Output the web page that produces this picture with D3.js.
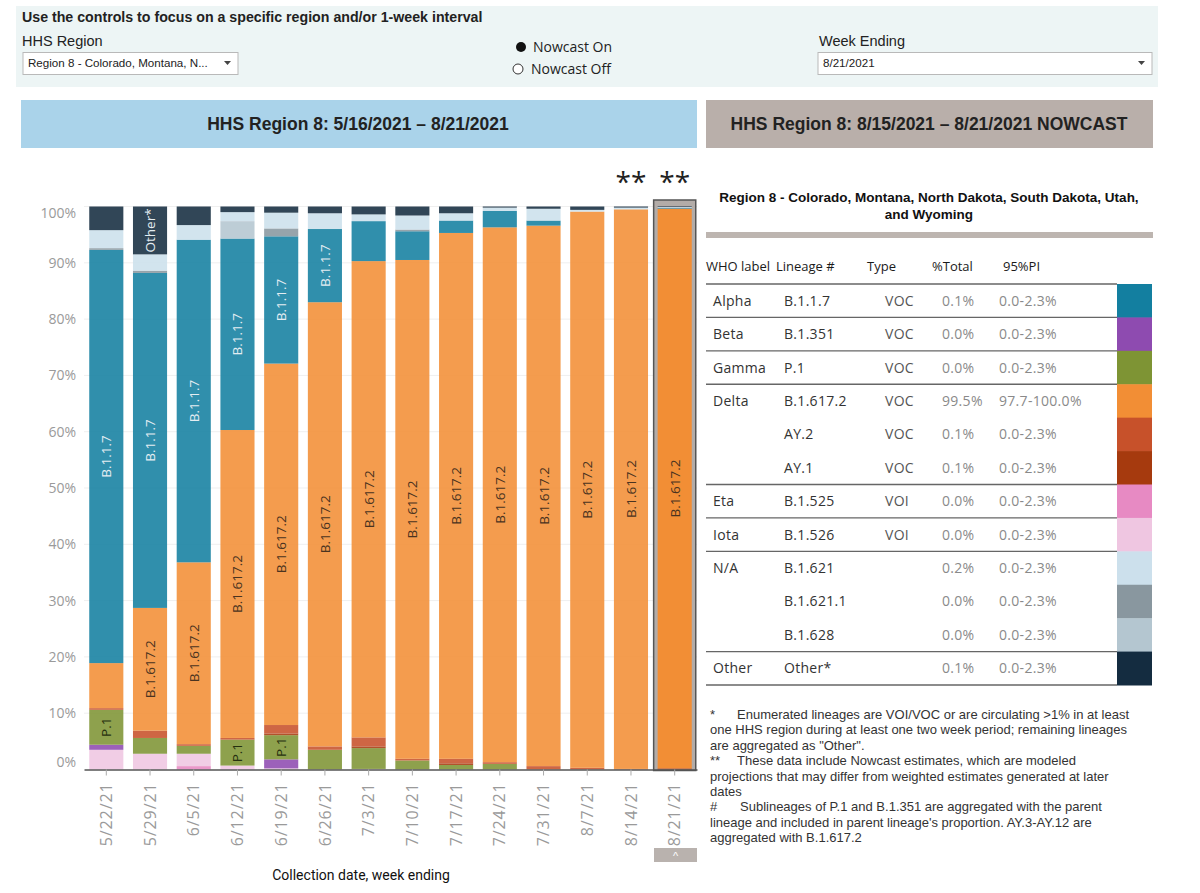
<!DOCTYPE html>
<html>
<head>
<meta charset="utf-8">
<script src="https://cdn.jsdelivr.net/npm/d3@7"></script>
<style>
  body { margin: 0; background: #fff; }
  svg { display: block; }
</style>
</head>
<body>
<svg id="chart" width="1200" height="893"></svg>
<script>
// collection weeks (x categories)
const weeks = ['5/22/21', '5/29/21', '6/5/21', '6/12/21', '6/19/21', '6/26/21', '7/3/21',
  '7/10/21', '7/17/21', '7/24/21', '7/31/21', '8/7/21', '8/14/21', '8/21/21'];

// stack order, bottom to top
const stackKeys = ['Eta', 'Iota', 'Beta', 'Gamma', 'AY.1', 'AY.2', 'B.1.617.2', 'B.1.1.7',
  'B.1.628', 'B.1.621.1', 'B.1.621', 'Other'];

// weekly share (%) per lineage
const etaShare      = [0, 0, 0.6, 0, 0, 0, 0, 0, 0, 0, 0, 0, 0, 0];
const iotaShare     = [3.5, 2.8, 2.2, 0.7, 0.2, 0, 0.1, 0, 0, 0, 0, 0, 0, 0];
const betaShare     = [0.9, 0, 0, 0, 1.6, 0, 0, 0, 0, 0, 0, 0, 0, 0];
const gammaShare    = [6.2, 2.8, 1.4, 4.6, 4.3, 3.5, 3.7, 1.6, 0.8, 1.0, 0, 0, 0, 0];
const ay1Share      = [0, 0, 0, 0, 0.3, 0, 0.3, 0, 0.3, 0, 0, 0, 0, 0.1];
const ay2Share      = [0.3, 1.3, 0.3, 0.3, 1.5, 0.6, 1.6, 0.3, 0.8, 0.3, 0.6, 0.3, 0.1, 0.1];
const deltaShare    = [8.0, 21.8, 32.3, 54.7, 64.2, 78.9, 84.6, 88.6, 93.4, 95.0, 96.0, 98.8, 99.4, 99.4];
const alphaShare    = [73.4, 59.5, 57.3, 34.0, 22.6, 13.0, 7.1, 5.1, 2.2, 2.9, 0.9, 0, 0, 0.1];
const b1628Share    = [0, 0, 0, 3.1, 0, 0, 0, 0, 0, 0, 0, 0, 0, 0];
const b16211Share   = [0.3, 0.4, 0, 0, 1.4, 0, 0, 0.3, 0, 0, 0, 0, 0, 0];
const b1621Share    = [3.2, 2.9, 2.6, 1.6, 2.8, 2.8, 1.2, 2.5, 1.3, 0.6, 2.1, 0.3, 0.3, 0.2];
const otherShare    = [4.2, 8.5, 3.3, 1.0, 1.1, 1.2, 1.4, 1.6, 1.2, 0.2, 0.4, 0.6, 0.2, 0.1];

const lineageColors = {
  'Alpha': '#137fa0', 'Beta': '#8e4bb0', 'Gamma': '#7e9434', 'B.1.617.2': '#f28e35',
  'AY.2': '#c7512a', 'AY.1': '#a63a0e', 'Eta': '#e78ac3', 'Iota': '#efc6e1',
  'B.1.621': '#cce0ec', 'B.1.621.1': '#89979f', 'B.1.628': '#b4c6d0', 'Other': '#142c40'
};

// nowcast table
const whoLabels = ['Alpha', 'Beta', 'Gamma', 'Delta', '', '', 'Eta', 'Iota', 'N/A', '', '', 'Other'];
const tableLineages = ['B.1.1.7', 'B.1.351', 'P.1', 'B.1.617.2', 'AY.2', 'AY.1', 'B.1.525', 'B.1.526',
  'B.1.621', 'B.1.621.1', 'B.1.628', 'Other*'];
const typeLabels = ['VOC', 'VOC', 'VOC', 'VOC', 'VOC', 'VOC', 'VOI', 'VOI', '', '', '', ''];
const pctTotal = ['0.1%', '0.0%', '0.0%', '99.5%', '0.1%', '0.1%', '0.0%', '0.0%', '0.2%', '0.0%', '0.0%', '0.1%'];
const piRange = ['0.0-2.3%', '0.0-2.3%', '0.0-2.3%', '97.7-100.0%', '0.0-2.3%', '0.0-2.3%', '0.0-2.3%',
  '0.0-2.3%', '0.0-2.3%', '0.0-2.3%', '0.0-2.3%', '0.0-2.3%'];
const swatchKeys = ['Alpha', 'Beta', 'Gamma', 'B.1.617.2', 'AY.2', 'AY.1', 'Eta', 'Iota',
  'B.1.621', 'B.1.621.1', 'B.1.628', 'Other'];
const groupBreaks = [0, 1, 2, 3, 6, 7, 8, 11, 12]; // row indexes with a rule above

const footnotes = [
  ['*', 'Enumerated lineages are VOI/VOC or are circulating >1% in at least'],
  ['', 'one HHS region during at least one two week period; remaining lineages'],
  ['', 'are aggregated as "Other".'],
  ['**', 'These data include Nowcast estimates, which are modeled'],
  ['', 'projections that may differ from weighted estimates generated at later'],
  ['', 'dates'],
  ['#', 'Sublineages of P.1 and B.1.351 are aggregated with the parent'],
  ['', 'lineage and included in parent lineage\'s proportion. AY.3-AY.12 are'],
  ['', 'aggregated with B.1.617.2']
];

const shareByKey = {
  'Eta': etaShare, 'Iota': iotaShare, 'Beta': betaShare, 'Gamma': gammaShare, 'AY.1': ay1Share,
  'AY.2': ay2Share, 'B.1.617.2': deltaShare, 'B.1.1.7': alphaShare, 'B.1.628': b1628Share,
  'B.1.621.1': b16211Share, 'B.1.621': b1621Share, 'Other': otherShare
};
const colorOf = k => lineageColors[k === 'B.1.1.7' ? 'Alpha' : k];

const rows = weeks.map((w, i) => {
  const r = { week: w };
  stackKeys.forEach(k => { r[k] = shareByKey[k][i] / 100; });
  return r;
});

const svg = d3.select('#chart');
const ARIAL = 'Liberation Sans, Arial, sans-serif';
const SANS = 'Open Sans, sans-serif';

// ---------- controls panel ----------
svg.append('rect').attr('x', 16).attr('y', 6).attr('width', 1142).attr('height', 81).attr('fill', '#edf5f5');
svg.append('text').attr('x', 22).attr('y', 22).attr('font-family', ARIAL).attr('font-weight', 'bold')
  .attr('font-size', 14.2).attr('fill', '#222')
  .text('Use the controls to focus on a specific region and/or 1-week interval');
svg.append('text').attr('x', 22).attr('y', 46).attr('font-family', ARIAL).attr('font-size', 14.5)
  .attr('fill', '#222').text('HHS Region');
svg.append('text').attr('x', 819).attr('y', 46).attr('font-family', ARIAL).attr('font-size', 14.5)
  .attr('fill', '#222').text('Week Ending');

function dropdown(x, w, label) {
  svg.append('rect').attr('x', x).attr('y', 52.5).attr('width', w).attr('height', 22)
    .attr('fill', '#fff').attr('stroke', '#b9b9b9');
  svg.append('text').attr('x', x + 5).attr('y', 67).attr('font-family', ARIAL).attr('font-size', 11.6)
    .attr('fill', '#222').text(label);
  svg.append('path').attr('d', `M${x + w - 14},61 l7,0 l-3.5,4 z`).attr('fill', '#444');
}
dropdown(23, 215, 'Region 8 - Colorado, Montana, N...');
dropdown(818, 334, '8/21/2021');

svg.append('circle').attr('cx', 521).attr('cy', 47).attr('r', 5).attr('fill', '#111');
svg.append('circle').attr('cx', 518).attr('cy', 69).attr('r', 5).attr('fill', '#fff').attr('stroke', '#333');
svg.append('text').attr('x', 533).attr('y', 52).attr('font-family', SANS).attr('font-size', 14)
  .attr('fill', '#222').text('Nowcast On');
svg.append('text').attr('x', 531).attr('y', 74).attr('font-family', SANS).attr('font-size', 14)
  .attr('fill', '#222').text('Nowcast Off');

// ---------- headers ----------
svg.append('rect').attr('x', 21).attr('y', 100).attr('width', 676).attr('height', 48).attr('fill', '#aad3ea');
svg.append('text').attr('x', 358).attr('y', 130).attr('text-anchor', 'middle').attr('font-family', ARIAL)
  .attr('font-weight', 'bold').attr('font-size', 17.5).attr('fill', '#222')
  .text('HHS Region 8: 5/16/2021 \u2013 8/21/2021');
svg.append('rect').attr('x', 706).attr('y', 100).attr('width', 447).attr('height', 48).attr('fill', '#b9afaa');
svg.append('text').attr('x', 929).attr('y', 130).attr('text-anchor', 'middle').attr('font-family', ARIAL)
  .attr('font-weight', 'bold').attr('font-size', 17.5).attr('fill', '#222')
  .text('HHS Region 8: 8/15/2021 \u2013 8/21/2021 NOWCAST');

// ---------- stacked bar chart ----------
const x = d3.scaleBand().domain(weeks).range([84, 697]).paddingInner(0.22).paddingOuter(0.12);
const y = d3.scaleLinear().domain([0, 1]).range([769.5, 206.5]);
const lastWeek = weeks[weeks.length - 1];

const grid = svg.append('g');
grid.selectAll('line').data(y.ticks(10).slice(1)).join('line')
  .attr('x1', 84).attr('x2', 697).attr('y1', d => y(d)).attr('y2', d => y(d))
  .attr('stroke', '#efefef');

const yAxis = svg.append('g').attr('transform', 'translate(80,0)')
  .call(d3.axisLeft(y).ticks(10).tickFormat(d3.format('.0%')).tickSize(0).tickPadding(4));
yAxis.select('.domain').remove();
yAxis.selectAll('text').attr('font-family', SANS).attr('font-size', 14).attr('fill', '#9a9a9a')
  .attr('dy', d => d === 1 ? '0.75em' : d === 0 ? '-0.2em' : '0.32em');

// highlight box for the nowcast week
svg.append('rect').attr('x', x(lastWeek) - 4).attr('y', 200).attr('width', x.bandwidth() + 8)
  .attr('height', y(0) - 200 + 1).attr('fill', '#b3aca8').attr('stroke', '#555').attr('stroke-width', 1.5);

const series = d3.stack().keys(stackKeys)(rows);
const labelFor = { 'B.1.1.7': 'B.1.1.7', 'B.1.617.2': 'B.1.617.2', 'Gamma': 'P.1', 'Other': 'Other*' };
const lightText = new Set(['B.1.1.7', 'Other']);

const layers = svg.append('g').selectAll('g').data(series).join('g')
  .attr('fill', d => colorOf(d.key));

layers.selectAll('rect').data(d => d.filter(s => s[1] - s[0] > 0)).join('rect')
  .attr('x', d => x(d.data.week))
  .attr('y', d => y(d[1]))
  .attr('width', x.bandwidth())
  .attr('height', d => y(d[0]) - y(d[1]))
  .attr('fill-opacity', d => d.data.week === lastWeek ? 1 : 0.88);

// segment labels, kept only where they fit
const labelG = svg.append('g');
series.filter(s => labelFor[s.key]).forEach(s => {
  s.forEach(d => {
    const h = y(d[0]) - y(d[1]);
    if (h <= 0) return;
    const cx = x(d.data.week) + x.bandwidth() / 2;
    const cy = (y(d[0]) + y(d[1])) / 2;
    const t = labelG.append('text')
      .attr('transform', `translate(${cx + 5},${cy}) rotate(-90)`)
      .attr('text-anchor', 'middle').attr('font-family', SANS).attr('font-size', 13.5)
      .attr('fill', lightText.has(s.key) ? '#e4edf2' : (s.key === 'Gamma' ? '#26300f' : '#4a3320'))
      .text(labelFor[s.key]);
    if (t.node().getComputedTextLength() + 2 > h) t.remove();
  });
});

const xAxis = svg.append('g').attr('transform', `translate(0,${y(0)})`)
  .call(d3.axisBottom(x).tickSize(6).tickSizeOuter(0).tickPadding(0));
xAxis.select('.domain').attr('stroke', '#555').attr('stroke-width', 1.5);
xAxis.selectAll('.tick line').attr('stroke', '#aaa');
xAxis.selectAll('text').attr('font-family', SANS).attr('font-size', 16).attr('letter-spacing', 0.9)
  .attr('fill', '#9a9a9a').attr('text-anchor', 'end')
  .attr('transform', 'translate(0,13) rotate(-90)').attr('dy', '0.35em').attr('x', 0).attr('y', 0);

// nowcast markers
['8/14/21', '8/21/21'].forEach(w => {
  svg.append('text').attr('x', x(w) + x.bandwidth() / 2).attr('y', 192).attr('text-anchor', 'middle')
    .attr('font-family', SANS).attr('font-size', 28).attr('fill', '#222').text('**');
});

// scroll button + axis title
svg.append('rect').attr('x', 654).attr('y', 848).attr('width', 43).attr('height', 14).attr('fill', '#b9b2ae');
svg.append('text').attr('x', 675.5).attr('y', 860).attr('text-anchor', 'middle').attr('font-family', ARIAL)
  .attr('font-size', 11).attr('fill', '#fff').text('^');
svg.append('text').attr('x', 361).attr('y', 880).attr('text-anchor', 'middle').attr('font-family', 'Roboto, sans-serif')
  .attr('font-size', 14).attr('fill', '#111').text('Collection date, week ending');

// ---------- nowcast table ----------
svg.append('text').attr('x', 929).attr('y', 202).attr('text-anchor', 'middle').attr('font-family', ARIAL)
  .attr('font-weight', 'bold').attr('font-size', 13.5).attr('fill', '#111')
  .text('Region 8 - Colorado, Montana, North Dakota, South Dakota, Utah,');
svg.append('text').attr('x', 929).attr('y', 219).attr('text-anchor', 'middle').attr('font-family', ARIAL)
  .attr('font-weight', 'bold').attr('font-size', 13.5).attr('fill', '#111').text('and Wyoming');
svg.append('rect').attr('x', 706).attr('y', 232).attr('width', 447).attr('height', 6).attr('fill', '#bdb5b0');

const headCols = [['WHO label', 706], ['Lineage #', 776], ['Type', 867], ['%Total', 932], ['95%PI', 1003]];
headCols.forEach(([t, hx]) => {
  svg.append('text').attr('x', hx).attr('y', 271).attr('font-family', SANS).attr('font-size', 13)
    .attr('fill', '#1a1a1a').text(t);
});

const rowY = d3.scaleBand().domain(d3.range(tableLineages.length)).range([284, 685]);
const tbl = svg.append('g');
tbl.selectAll('rect').data(swatchKeys).join('rect')
  .attr('x', 1117).attr('y', (d, i) => rowY(i)).attr('width', 35).attr('height', rowY.bandwidth() + 0.5)
  .attr('fill', d => lineageColors[d]);

const cols = [
  { vals: whoLabels, x: 713, fill: '#333' },
  { vals: tableLineages, x: 784, fill: '#333' },
  { vals: typeLabels, x: 885, fill: '#555' },
  { vals: pctTotal, x: 942, fill: '#8a8a8a' },
  { vals: piRange, x: 999, fill: '#8a8a8a' }
];
cols.forEach(c => {
  tbl.append('g').selectAll('text').data(c.vals).join('text')
    .attr('x', c.x).attr('y', (d, i) => rowY(i) + rowY.bandwidth() / 2 + 5)
    .attr('font-family', SANS).attr('font-size', 14).attr('letter-spacing', 0.3)
    .attr('fill', c.fill).text(d => d);
});
tbl.append('g').selectAll('line').data(groupBreaks).join('line')
  .attr('x1', 706).attr('x2', 1117)
  .attr('y1', d => d === 12 ? rowY(11) + rowY.bandwidth() : rowY(d))
  .attr('y2', d => d === 12 ? rowY(11) + rowY.bandwidth() : rowY(d))
  .attr('stroke', '#666').attr('stroke-width', 1.3);

// footnotes
const fn = svg.append('g').attr('font-family', ARIAL).attr('font-size', 13).attr('fill', '#333');
footnotes.forEach(([mark, line], i) => {
  const fy = 719 + i * 15.4;
  if (mark) {
    fn.append('text').attr('x', 710).attr('y', fy).text(mark);
    fn.append('text').attr('x', mark === '#' ? 740 : 737).attr('y', fy).text(line);
  } else {
    fn.append('text').attr('x', 710).attr('y', fy).text(line);
  }
});
</script>
</body>
</html>
